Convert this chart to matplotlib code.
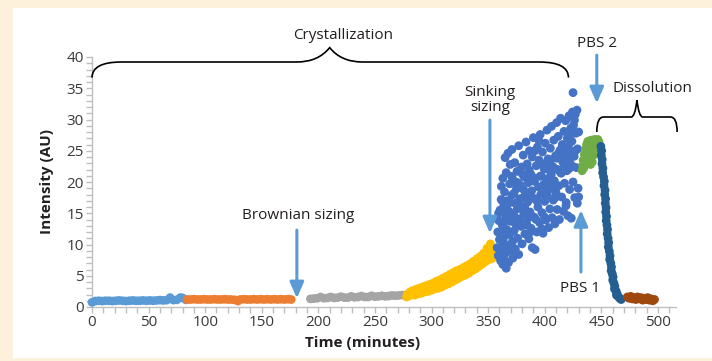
import matplotlib.pyplot as plt
from matplotlib.path import Path
from matplotlib.patches import PathPatch, Rectangle
from matplotlib.ticker import MultipleLocator

plt.rcParams['font.family'] = ['Open Sans', 'DejaVu Sans']

# (time in minutes, intensity in AU) for every recorded stage
brownian_1 = [(0, 0.75), (3, 0.95), (6, 1.0), (9, 0.95), (12, 1.0), (15, 1.0),
              (18, 0.95), (21, 1.0), (24, 1.05), (27, 1.0), (30, 0.95), (33, 1.0),
              (36, 1.05), (39, 1.0), (42, 1.0), (45, 1.05), (48, 1.0), (51, 1.05),
              (54, 1.0), (57, 1.05), (60, 1.1), (63, 1.05), (66, 1.1), (69, 1.5),
              (72, 1.1), (75, 1.15), (78, 1.5), (80, 1.45), (83, 1.15)]

brownian_2 = [(84, 1.2), (87, 1.2), (90, 1.25), (93, 1.2), (96, 1.2), (99, 1.25),
              (102, 1.2), (105, 1.2), (108, 1.25), (111, 1.2), (114, 1.2), (117, 1.25),
              (120, 1.2), (123, 1.2), (126, 1.15), (129, 0.95), (131, 1.2), (134, 1.25),
              (137, 1.2), (140, 1.2), (143, 1.25), (146, 1.2), (149, 1.25), (152, 1.2),
              (155, 1.25), (158, 1.2), (161, 1.25), (164, 1.2), (167, 1.25), (170, 1.2),
              (173, 1.25), (176, 1.2)]

brownian_3 = [(193, 1.3), (196, 1.35), (199, 1.4), (202, 1.6), (205, 1.4), (208, 1.45),
              (211, 1.6), (214, 1.45), (217, 1.5), (220, 1.65), (223, 1.5), (226, 1.5),
              (229, 1.7), (232, 1.55), (235, 1.6), (238, 1.75), (241, 1.6), (244, 1.6),
              (247, 1.8), (250, 1.65), (253, 1.7), (256, 1.8), (259, 1.7), (262, 1.75),
              (265, 1.85), (268, 1.8), (271, 1.85), (274, 1.9), (277, 1.9)]

growth = [(278, 1.6), (279, 2.1), (280, 1.8), (281, 2.4), (282, 1.9), (283, 2.6),
          (284, 2.2), (285, 1.9), (286, 2.8), (287, 2.3), (288, 2.1), (289, 3.0),
          (290, 2.5), (291, 2.2), (292, 3.2), (293, 2.7), (294, 2.4), (295, 3.4),
          (296, 2.9), (297, 2.5), (298, 3.6), (299, 3.0), (300, 2.7), (301, 3.8),
          (302, 3.2), (303, 2.9), (304, 4.1), (305, 3.4), (306, 3.0), (307, 4.3),
          (308, 3.7), (309, 3.2), (310, 4.6), (311, 3.9), (312, 3.5), (313, 4.9),
          (314, 4.2), (315, 3.7), (316, 5.2), (317, 4.5), (318, 4.0), (319, 5.5),
          (320, 4.7), (321, 4.3), (322, 5.8), (323, 5.0), (324, 4.6), (325, 6.0),
          (326, 5.3), (327, 4.9), (328, 6.3), (329, 5.6), (330, 5.1), (331, 6.6),
          (332, 5.9), (333, 5.4), (334, 6.9), (335, 6.2), (336, 5.8), (337, 7.3),
          (338, 6.5), (339, 6.1), (340, 7.7), (341, 6.9), (342, 6.5), (343, 8.1),
          (344, 7.3), (345, 6.9), (346, 8.6), (347, 7.8), (348, 7.3), (349, 9.4),
          (350, 8.2), (351, 7.6), (352, 10.1), (353, 8.8), (354, 7.8), (354.5, 9.3)]

sinking = [(358, 9.5), (358.5, 12.0), (359, 8.2), (359.5, 13.8),
           (360, 10.8), (360.5, 15.5), (361, 7.4), (361, 11.9), (361.5, 17.2),
           (362, 9.0), (362.5, 13.1), (363, 20.6), (363, 6.8), (363.5, 15.9),
           (364, 11.2), (364.5, 18.4), (365, 23.9), (365, 8.5), (365.5, 14.6), (366, 6.2),
           (366, 21.5), (366.5, 12.4), (367, 17.0), (367, 9.8), (367.5, 24.6),
           (368, 7.1), (368.5, 15.3), (369, 19.7), (369, 11.6), (369.5, 22.8),
           (370, 13.7), (370.5, 8.9), (371, 17.9), (371, 25.2), (371.5, 10.5),
           (372, 20.4), (372.5, 14.8), (373, 12.2), (373.5, 23.1), (374, 16.6), (374, 9.3),
           (375, 18.9), (375.5, 21.7), (376, 11.0), (376.5, 14.1), (377, 25.8), (377, 8.4),
           (378, 16.2), (378.5, 19.5), (379, 12.9), (379.5, 22.4), (380, 10.1), (380, 17.4),
           (381, 24.3), (381.5, 14.9), (382, 20.8), (382.5, 11.7), (383, 18.1), (383.5, 26.4),
           (384, 13.4), (384.5, 22.9), (385, 16.8), (385.5, 19.9), (386, 10.9), (386.5, 25.0),
           (387, 15.2), (387.5, 21.3), (388, 12.6), (388.5, 18.6), (389, 24.0), (389, 9.5),
           (390, 27.1), (390.5, 14.4), (391, 20.1), (391.5, 9.2), (392, 17.3), (392.5, 22.6),
           (393, 12.0), (393.5, 25.6), (394, 16.0), (394.5, 19.2), (395, 23.5), (395.5, 13.5),
           (396, 27.6), (396.5, 18.0), (397, 21.0), (397.5, 15.1), (398, 24.8), (398.5, 11.8),
           (399, 19.6), (399.5, 22.1), (400, 16.9), (400.5, 26.2), (401, 13.9), (401.5, 20.5),
           (402, 28.3), (402.5, 17.8), (403, 23.7), (403.5, 12.7), (404, 21.9), (404.5, 15.7),
           (405, 25.4), (405.5, 19.0), (406, 28.9), (406.5, 14.3), (407, 22.5), (407.5, 17.1),
           (408, 26.7), (408.5, 20.2), (409, 13.3), (409.5, 24.2), (410, 18.3), (410.5, 29.5),
           (411, 15.6), (411.5, 22.0), (412, 27.3), (412.5, 19.4), (413, 14.0), (413.5, 25.1),
           (414, 30.2), (414.5, 21.4), (415, 17.6), (415.5, 26.0), (416, 23.2), (416.5, 15.3),
           (417, 28.1), (417.5, 19.8), (418, 24.5), (418.5, 29.8), (419, 16.7), (419.5, 21.8),
           (420, 27.0), (420.5, 14.6), (421, 25.7), (421.5, 30.6), (422, 18.8), (422.5, 23.0),
           (423, 28.6), (423.5, 14.2), (424, 26.5), (424.5, 31.2), (425, 20.0), (425.5, 29.1),
           (426, 24.1), (426.5, 17.5), (427, 30.8), (427.5, 27.8), (428, 22.3), (428.5, 31.5),
           (425, 34.3), (429, 25.3), (429.5, 19.0), (430, 17.6), (430, 28.0),
           (359.2, 15.0), (360.2, 9.1), (361.7, 19.3), (362.8, 16.9), (363.7, 10.3),
           (364.8, 13.7), (365.7, 7.3), (366.3, 16.2), (367.8, 13.9), (368.7, 9.4),
           (369.3, 16.7), (370.8, 20.9), (371.8, 7.8), (372.8, 18.2), (373.8, 20.0),
           (374.3, 13.3), (375.8, 15.7), (376.3, 19.9), (377.8, 17.3), (378.8, 13.8),
           (380.5, 21.2), (381.3, 18.8), (382.3, 16.0), (383.3, 13.1), (384.3, 17.7),
           (385.8, 14.3), (386.3, 21.9), (387.3, 12.0), (388.8, 20.9), (389.8, 17.4),
           (391.3, 25.0), (392.3, 14.0), (393.3, 16.9), (394.8, 26.7), (395.8, 20.9),
           (397.3, 12.5), (398.3, 22.9), (399.8, 14.4), (400.8, 18.5), (402.3, 22.8),
           (403.3, 19.6), (404.8, 23.4), (405.8, 21.2), (406.8, 18.9), (408.3, 22.2),
           (409.3, 17.5), (410.8, 23.8), (412.3, 24.6), (413.3, 21.7), (414.8, 24.0),
           (416.3, 25.7), (417.3, 22.8), (418.8, 16.2), (419.8, 24.1), (421.3, 22.1),
           (422.3, 27.4), (423.8, 24.8), (424.8, 22.5), (426.3, 29.9), (427.3, 25.0),
           (428.8, 16.6)]

pbs_2 = [(433, 21.8), (433.5, 22.6), (434, 23.5), (434.5, 22.2), (435, 24.4), (435.5, 23.1),
         (436, 25.3), (436.5, 22.9), (437, 26.0), (437.5, 24.1), (438, 26.5), (438.5, 23.4),
         (439, 25.2), (439.5, 26.6), (440, 24.0), (440.5, 22.8), (441, 25.8), (441.5, 26.7),
         (442, 23.2), (442.5, 24.9), (443, 26.4), (443.5, 25.5), (444, 26.8), (444.5, 24.4),
         (445, 26.1), (445.5, 26.7), (446, 25.3), (446.5, 26.5), (447, 26.8), (447.5, 25.9),
         (448, 26.4)]

dissolving = [(449.6, 25.7), (450.3, 25.0), (450.0, 24.3), (450.8, 23.6), (450.6, 22.9),
              (451.4, 22.2), (451.2, 21.5), (452.0, 20.8), (452.7, 20.1), (452.4, 19.4),
              (453.3, 18.7), (453.0, 18.0), (453.8, 17.3), (453.5, 16.6), (454.2, 15.9),
              (453.9, 15.2), (454.6, 14.5), (454.3, 13.8), (455.0, 13.1), (455.5, 12.4),
              (455.2, 11.7), (456.0, 11.0), (456.5, 10.3), (456.2, 9.6), (457.1, 8.9),
              (457.7, 8.2), (457.4, 7.6), (458.4, 7.0), (459.0, 6.4), (458.7, 5.8),
              (459.7, 5.3), (460.4, 4.8), (460.1, 4.3), (461.2, 3.8), (462.0, 3.3),
              (461.6, 2.9), (462.9, 2.6), (463.8, 2.2), (463.4, 1.9), (464.8, 1.7),
              (465.8, 1.5), (466.8, 1.3), (467.6, 1.2)]

dissolved = [(473, 1.6), (474.5, 1.4), (476, 1.7), (477.5, 1.3), (479, 1.5), (480.5, 1.2),
             (482, 1.6), (483.5, 1.3), (485, 1.5), (486.5, 1.1), (488, 1.4), (489.5, 1.2),
             (491, 1.5), (492.5, 1.1), (494, 1.3), (495.5, 1.0), (497, 1.2)]

stages = [(brownian_1, '#5b9bd5'), (brownian_2, '#ed7d31'), (brownian_3, '#a5a5a5'),
          (growth, '#ffc000'), (sinking, '#4472c4'), (pbs_2, '#70ad47'),
          (dissolving, '#255e91'), (dissolved, '#9e480e')]

ARROW = '#5b9bd5'
TXT = '#231f20'
AXC = '#bfbfbf'


def brace(ax, x0, x1, y_end, y_line, x_tip, y_tip, r, w):
    # curly bracket opening downwards, tip pointing up
    verts = [(x0, y_end), (x0, y_line), (x0 + r, y_line),
             (x_tip - w, y_line),
             (x_tip - 0.35 * w, y_line), (x_tip, y_tip),
             (x_tip + 0.35 * w, y_line), (x_tip + w, y_line),
             (x1 - r, y_line),
             (x1, y_line), (x1, y_end)]
    codes = [Path.MOVETO, Path.CURVE3, Path.CURVE3,
             Path.LINETO,
             Path.CURVE3, Path.CURVE3,
             Path.CURVE3, Path.CURVE3,
             Path.LINETO,
             Path.CURVE3, Path.CURVE3]
    ax.add_patch(PathPatch(Path(verts, codes), fc='none', ec='black',
                           lw=1.2, clip_on=False, zorder=5))


def arrow(ax, start, end):
    ax.annotate('', xy=end, xytext=start, annotation_clip=False,
                arrowprops=dict(arrowstyle='-|>,head_length=0.8,head_width=0.35',
                                color=ARROW, lw=2.2, mutation_scale=12,
                                shrinkA=0, shrinkB=0))


fig = plt.figure(figsize=(7.12, 3.61), dpi=100, facecolor='#fdf1dc')
fig.patches.append(Rectangle((13 / 712, 3 / 361), 1, 1 - 11 / 361,
                             transform=fig.transFigure, fc='white', ec='none', zorder=-10))

ax = fig.add_axes([92 / 712, 1 - 307 / 361, 584 / 712, 250 / 361])
ax.patch.set_alpha(0)

for pts, col in stages:
    t = [p[0] for p in pts]
    v = [p[1] for p in pts]
    ax.scatter(t, v, s=40, color=col, edgecolors='none', clip_on=False, zorder=3)

ax.set_xlim(0, 516)
ax.set_ylim(0, 40)
ax.xaxis.set_major_locator(MultipleLocator(50))
ax.xaxis.set_minor_locator(MultipleLocator(10))
ax.yaxis.set_major_locator(MultipleLocator(5))
ax.yaxis.set_minor_locator(MultipleLocator(1))
for s in ['top', 'right']:
    ax.spines[s].set_visible(False)
for s in ['left', 'bottom']:
    ax.spines[s].set_color(AXC)
    ax.spines[s].set_linewidth(1.0)
ax.tick_params(which='both', direction='out', color=AXC, length=4, width=1)
ax.tick_params(which='major', labelsize=11, labelcolor='#3a3a3a', pad=2)

fig.text(363 / 712, 1 - 343 / 361, 'Time (minutes)', ha='center', va='center',
         fontsize=11, fontweight='bold', color=TXT)
fig.text(47 / 712, 1 - 182 / 361, 'Intensity (AU)', ha='center', va='center',
         rotation=90, fontsize=11, fontweight='bold', color=TXT)

# stage brackets
brace(ax, 0, 421, 36.7, 39.2, 210, 41.5, 26, 29)
ax.text(222, 43.5, 'Crystallization', ha='center', va='center', fontsize=11, color=TXT)
brace(ax, 446, 517, 28.0, 30.4, 481.5, 33.1, 6, 5)
ax.text(495.5, 35.0, 'Dissolution', ha='center', va='center', fontsize=11, color=TXT)

# measurement markers
arrow(ax, (181, 12.3), (181, 1.4))
ax.text(182, 14.6, 'Brownian sizing', ha='center', va='center', fontsize=11, color=TXT)
arrow(ax, (351.6, 29.9), (351.6, 11.8))
ax.text(351.6, 33.1, 'Sinking\nsizing', ha='center', va='center', fontsize=11,
        color=TXT, linespacing=0.95)
arrow(ax, (446, 40.3), (446, 32.6))
ax.text(446, 42.1, 'PBS 2', ha='center', va='center', fontsize=11, color=TXT)
arrow(ax, (432, 5.6), (432, 15.5))
ax.text(431, 3.0, 'PBS 1', ha='center', va='center', fontsize=11, color=TXT)

fig.savefig('out.png', dpi=100, facecolor=fig.get_facecolor())
